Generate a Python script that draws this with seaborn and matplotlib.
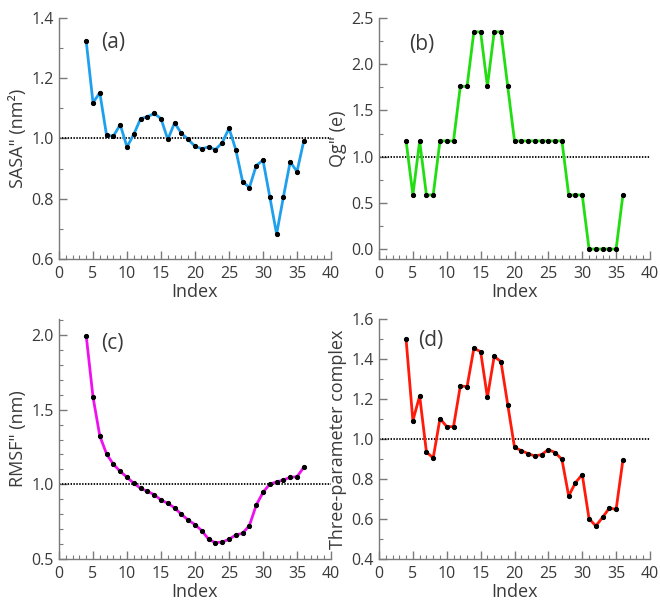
import numpy as np
import pandas as pd
import matplotlib
matplotlib.use("Agg")
import matplotlib.pyplot as plt
from matplotlib.ticker import MultipleLocator
import seaborn as sns

sns.set_style("white")
plt.rcParams['font.family'] = ['Open Sans', 'DejaVu Sans']

index = list(range(4, 37))

sasa = [1.323, 1.119, 1.152, 1.010, 1.008, 1.046, 0.972, 1.014, 1.066, 1.072,
        1.083, 1.066, 0.997, 1.052, 1.017, 0.997, 0.974, 0.966, 0.972, 0.963,
        0.986, 1.034, 0.963, 0.857, 0.837, 0.910, 0.928, 0.806, 0.683, 0.806,
        0.923, 0.890, 0.992]

qg = [1.17, 0.585, 1.17, 0.585, 0.585, 1.17, 1.17, 1.17, 1.76, 1.76,
      2.35, 2.35, 1.76, 2.35, 2.35, 1.76, 1.17, 1.17, 1.17, 1.17,
      1.17, 1.17, 1.17, 1.17, 0.585, 0.585, 0.585, 0.0, 0.0, 0.0,
      0.0, 0.0, 0.585]

rmsf = [1.996, 1.585, 1.324, 1.203, 1.134, 1.087, 1.047, 1.007, 0.973, 0.953,
        0.931, 0.895, 0.873, 0.842, 0.799, 0.761, 0.730, 0.690, 0.632, 0.609,
        0.614, 0.632, 0.661, 0.672, 0.724, 0.860, 0.946, 1.002, 1.016, 1.029,
        1.047, 1.051, 1.114]

three = [1.498, 1.092, 1.215, 0.935, 0.905, 1.102, 1.062, 1.062, 1.265, 1.262,
         1.453, 1.437, 1.208, 1.413, 1.387, 1.172, 0.958, 0.942, 0.927, 0.915,
         0.922, 0.947, 0.932, 0.898, 0.715, 0.782, 0.822, 0.602, 0.565, 0.608,
         0.655, 0.648, 0.895]

panels = [
    dict(vals=sasa, color="#1fa0ec", ylabel='SASA" (nm²)', label="(a)",
         ylim=(0.6, 1.4), major=0.2, minor=0.1,
         rect=[59, 18, 272, 241], lpos=(0.155, 0.90)),
    dict(vals=qg, color="#22dd11", ylabel='Qg" (e)', label="(b)",
         ylim=(-0.108, 2.5), major=0.5, minor=0.25,
         rect=[379, 18, 271, 241], lpos=(0.11, 0.89)),
    dict(vals=rmsf, color="#ee11ee", ylabel='RMSF" (nm)', label="(c)",
         ylim=(0.5, 2.107), major=0.5, minor=0.1,
         rect=[59, 319, 272, 240], lpos=(0.155, 0.90)),
    dict(vals=three, color="#ff1a0a", ylabel='Three-parameter complex', label="(d)",
         ylim=(0.4, 1.6), major=0.2, minor=0.1,
         rect=[379, 319, 271, 240], lpos=(0.145, 0.91)),
]

W, H = 660, 603
fig = plt.figure(figsize=(W / 100, H / 100), dpi=100)
txt = "#3a3a3a"
spc = "#7a7a7a"

for p in panels:
    l, t, w, h = p["rect"]
    ax = fig.add_axes([l / W, 1 - (t + h) / H, w / W, h / H])
    df = pd.DataFrame({"Index": index, "val": p["vals"]})
    ax.axhline(1.0, color="black", linestyle=(0, (0.8, 0.8)), linewidth=1.3, zorder=1)
    sns.lineplot(data=df, x="Index", y="val", ax=ax, color=p["color"],
                 linewidth=2.0, marker="o", markersize=3.0,
                 markerfacecolor="black", markeredgecolor="black", zorder=3)
    ax.set_xlim(0, 40)
    ax.set_ylim(*p["ylim"])
    ax.xaxis.set_major_locator(MultipleLocator(5))
    ax.xaxis.set_minor_locator(MultipleLocator(1))
    ax.yaxis.set_major_locator(MultipleLocator(p["major"]))
    ax.yaxis.set_minor_locator(MultipleLocator(p["minor"]))
    ax.yaxis.set_major_formatter(matplotlib.ticker.FormatStrFormatter("%.1f"))
    for s in ["top", "right"]:
        ax.spines[s].set_visible(False)
    for s in ["left", "bottom"]:
        ax.spines[s].set_color(spc)
        ax.spines[s].set_linewidth(1.0)
    ax.tick_params(axis="x", which="both", bottom=True, top=False)
    ax.tick_params(axis="y", which="both", left=True, right=False)
    ax.tick_params(which="both", direction="in", colors=spc, labelcolor=txt,
                   labelsize=11.5)
    ax.tick_params(which="major", length=6, width=1.0)
    ax.tick_params(which="minor", length=3, width=0.8)
    ax.tick_params(axis="x", which="major", pad=5)
    ax.tick_params(axis="y", which="major", pad=4)
    ax.set_xlabel("Index", fontsize=13, color=txt, labelpad=1)
    ax.set_ylabel(p["ylabel"], fontsize=13, color=txt, labelpad=3)
    ax.text(p["lpos"][0], p["lpos"][1], p["label"], transform=ax.transAxes,
            fontsize=15, color=txt, va="center", ha="left")

fig.savefig("out.png", dpi=100)
